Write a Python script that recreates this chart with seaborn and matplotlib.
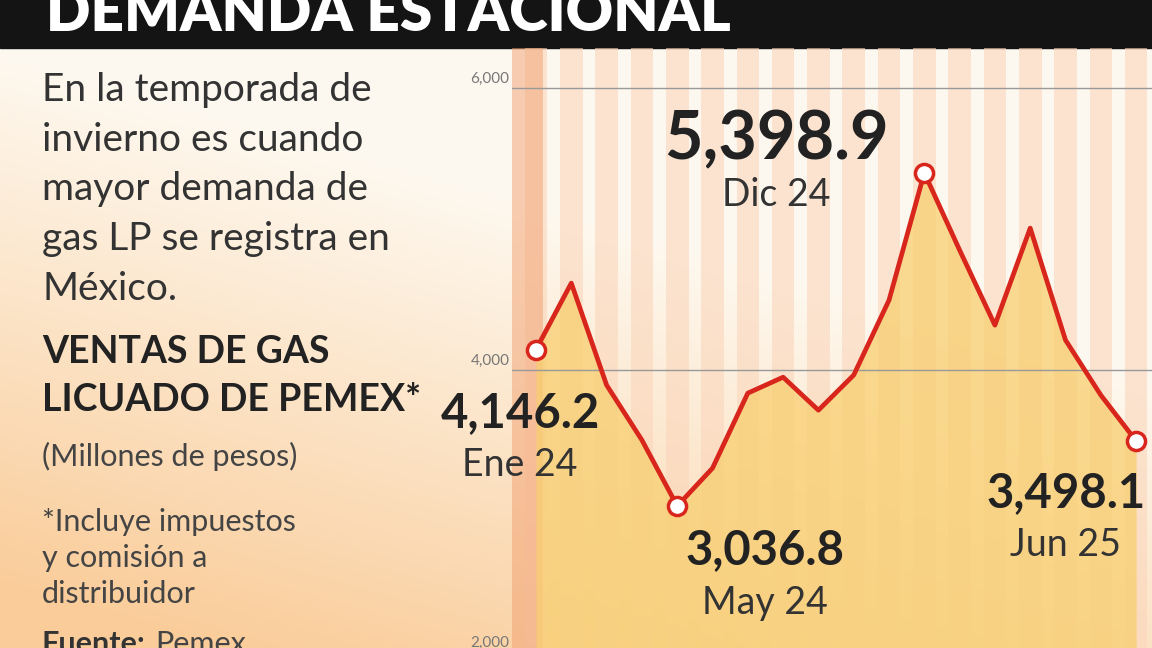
import numpy as np
import matplotlib
matplotlib.use("Agg")
import matplotlib.pyplot as plt
import seaborn as sns
import pandas as pd

months = ["Ene 24","Feb 24","Mar 24","Abr 24","May 24","Jun 24","Jul 24","Ago 24","Sep 24","Oct 24",
          "Nov 24","Dic 24","Ene 25","Feb 25","Mar 25","Abr 25","May 25","Jun 25"]
ventas = [4146.2,4617,3894,3504,3036.8,3305,3837,3950,3716,3965,4496,5398.9,4851,4319,5007,4213,3823,3498.1]
highlights = {0: ("4,146.2","Ene 24"), 4: ("3,036.8","May 24"), 11: ("5,398.9","Dic 24"), 17: ("3,498.1","Jun 25")}
yticks = [2000, 4000, 6000]

sns.set_theme(style="white")
plt.rcParams['font.family'] = ['Lato', 'DejaVu Sans']
fig = plt.figure(figsize=(11.52, 6.48), dpi=100)
W, H = 1152, 648

bg = fig.add_axes([0, 0, 1, 1]); bg.axis("off")
yy, xx = np.mgrid[0:1:200j, 0:1:200j]
t = np.clip((yy * 1.2 + (1 - xx) * 0.6) - 0.7, 0, 1)
c1 = np.array([0.995, 0.975, 0.94]); c2 = np.array([0.98, 0.80, 0.60])
img = c1[None, None, :] * (1 - t[..., None]) + c2[None, None, :] * t[..., None]
bg.imshow(img, extent=[0, 1, 0, 1], origin="upper", aspect="auto")
bg.set_xlim(0, 1); bg.set_ylim(0, 1)
bg.add_patch(plt.Rectangle((0, 1 - 48/H), 1, 48/H, color="#141414"))
bg.text(0.04, 1 - 40/H, "DEMANDA ESTACIONAL", color="white", fontsize=42, fontweight="heavy", va="bottom")

fig.text(42/W, 1 - 72/H, "En la temporada de\ninvierno es cuando\nmayor demanda de\ngas LP se registra en\nMéxico.",
         fontsize=28, color="#333333", va="top", linespacing=1.47)
fig.text(42/W, 1 - 335/H, "VENTAS DE GAS\nLICUADO DE PEMEX*", fontsize=27, fontweight="bold",
         color="#222222", va="top", linespacing=1.5)
fig.text(42/W, 1 - 442/H, "(Millones de pesos)", fontsize=22, color="#444444", va="top")
fig.text(42/W, 1 - 508/H, "*Incluye impuestos\ny comisión a\ndistribuidor", fontsize=22,
         color="#444444", va="top", linespacing=1.35)
fig.text(42/W, 1 - 630/H, "Fuente:", fontsize=22, color="#333333", va="top", fontweight="bold")
fig.text(155/W, 1 - 630/H, "Pemex", fontsize=22, color="#444444", va="top")

ax = fig.add_axes([512/W, 0, 640/W, 600/H])
ax.patch.set_alpha(0)
x = np.arange(len(months))
ax.set_xlim(-0.68, 17.45)
ax.set_ylim(2030, 6284)
for i in x:
    ax.axvspan(i - 0.32, i + 0.32, color="#fbd6bb", alpha=0.6, lw=0, zorder=0)
ax.axvspan(-0.68, 0.2, color="#f2a070", alpha=0.5, lw=0, zorder=0)
ax.fill_between(x, 2030, ventas, color="#f8cf70", alpha=0.75, lw=0, zorder=1)
df = pd.DataFrame({"x": x, "v": ventas})
sns.lineplot(data=df, x="x", y="v", color="#d8261c", lw=3.4, ax=ax, zorder=3)
hx = list(highlights.keys())
ax.scatter(hx, [ventas[i] for i in hx], s=170, facecolor="white", edgecolor="#d8261c", lw=2.5, zorder=4)
for yv in yticks:
    ax.axhline(yv, color="#999999", lw=1, zorder=2)
    ax.text(-0.75, yv + 15, f"{yv:,}", fontsize=11, color="#777777", ha="right", va="bottom", clip_on=False)
ax.axis("off")

pos = {0: (520, 413, 465, 34), 4: (765, 550, 603, 34), 11: (776, 140, 195, 48), 17: (1066, 493, 545, 34)}
for i, (val, lab) in highlights.items():
    cx, y1, y2, fs = pos[i]
    fig.text(cx/W, 1 - y1/H, val, fontsize=fs, fontweight="bold", color="#222222", ha="center", va="center")
    fig.text(cx/W, 1 - y2/H, lab, fontsize=27, color="#333333", ha="center", va="center")

fig.savefig("out.png", dpi=100)
